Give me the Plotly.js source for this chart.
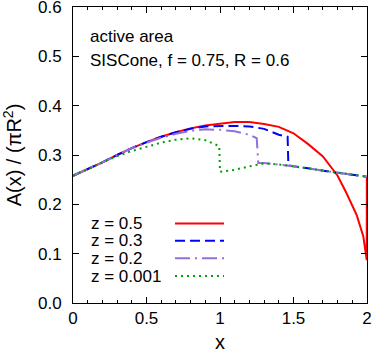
<!DOCTYPE html>
<html>
<head>
<meta charset="utf-8">
<script src="https://cdn.plot.ly/plotly-3.0.1.min.js"></script>
<style>
  body { margin: 0; background: #fff; }
  #area { width: 374px; height: 353px; }
</style>
</head>
<body>
<div id="area"></div>
<script>
// values
var xRed = [0, 0.1, 0.2, 0.3, 0.4, 0.5, 0.6, 0.7, 0.8, 0.9, 1.0, 1.1, 1.2, 1.3, 1.4, 1.5, 1.6, 1.7, 1.8, 1.86, 1.93, 1.975, 1.998, 1.999];
var yRed = [0.258, 0.271, 0.285, 0.300, 0.314, 0.326, 0.337, 0.346, 0.354, 0.360, 0.364, 0.367, 0.367, 0.363, 0.357, 0.344, 0.322, 0.297, 0.258, 0.223, 0.178, 0.135, 0.087, 0.256];

var xBlue = [0, 0.1, 0.2, 0.3, 0.4, 0.5, 0.6, 0.7, 0.8, 0.9, 1.0, 1.1, 1.2, 1.3, 1.4, 1.46, 1.465, 1.5, 1.6, 1.7, 1.8, 1.9, 2.0];
var yBlue = [0.258, 0.271, 0.285, 0.300, 0.314, 0.326, 0.337, 0.346, 0.353, 0.358, 0.359, 0.359, 0.358, 0.353, 0.341, 0.337, 0.279, 0.277, 0.273, 0.268, 0.264, 0.260, 0.256];

var xPurple = [0, 0.1, 0.2, 0.3, 0.4, 0.5, 0.6, 0.7, 0.8, 0.9, 1.0, 1.1, 1.2, 1.25, 1.26, 1.3, 1.4, 1.5, 1.6, 1.7, 1.8, 1.9, 2.0];
var yPurple = [0.258, 0.271, 0.285, 0.300, 0.314, 0.325, 0.335, 0.343, 0.349, 0.352, 0.351, 0.348, 0.341, 0.334, 0.284, 0.284, 0.281, 0.277, 0.273, 0.268, 0.264, 0.260, 0.256];

var xGreen = [0, 0.1, 0.2, 0.3, 0.4, 0.5, 0.6, 0.7, 0.8, 0.9, 0.97, 0.995, 1.0, 1.1, 1.2, 1.3, 1.4, 1.5, 1.6, 1.7, 1.8, 1.9, 2.0];
var yGreen = [0.258, 0.271, 0.285, 0.298, 0.308, 0.317, 0.325, 0.331, 0.334, 0.330, 0.321, 0.318, 0.266, 0.270, 0.277, 0.283, 0.281, 0.277, 0.273, 0.268, 0.264, 0.260, 0.256];

var labels = ['z = 0.5', 'z = 0.3', 'z = 0.2', 'z = 0.001'];

var fnt = 'Liberation Sans, Arial, sans-serif';
var rowY = [0.269, 0.210, 0.151, 0.091];   // legend rows, paper fraction

var data = [
  {x: xRed, y: yRed, name: labels[0], legend: 'legend', type: 'scatter', mode: 'lines',
   line: {color: '#ff0000', width: 2}},
  {x: xBlue, y: yBlue, name: labels[1], legend: 'legend2', type: 'scatter', mode: 'lines',
   line: {color: '#0000ff', width: 2, dash: '10px,5px'}},
  {x: xPurple, y: yPurple, name: labels[2], legend: 'legend3', type: 'scatter', mode: 'lines',
   line: {color: '#9370db', width: 2, dash: '15px,5px,2px,5px'}},
  {x: xGreen, y: yGreen, name: labels[3], legend: 'legend4', type: 'scatter', mode: 'lines',
   line: {color: '#00a000', width: 2, dash: '2px,4px'}}
];

var annotations = [
  {text: 'active area', xref: 'paper', yref: 'paper', x: 0.05, y: 0.899,
   xanchor: 'left', yanchor: 'middle', showarrow: false},
  {text: 'SISCone, f = 0.75, R = 0.6', xref: 'paper', yref: 'paper', x: 0.05, y: 0.819,
   xanchor: 'left', yanchor: 'middle', showarrow: false}
];

function legendBox(i) {
  return {
    x: 0.33, y: rowY[i], xanchor: 'left', yanchor: 'middle',
    bgcolor: 'rgba(0,0,0,0)', itemwidth: 49,
    font: {family: fnt, size: 2, color: 'rgba(0,0,0,0)'}
  };
}

var layout = {
  width: 374,
  height: 353,
  font: {family: fnt, size: 17, color: '#000'},
  paper_bgcolor: '#fff',
  plot_bgcolor: '#fff',
  margin: {l: 73, r: 7, t: 7, b: 50},
  showlegend: true,
  legend: legendBox(0),
  legend2: legendBox(1),
  legend3: legendBox(2),
  legend4: legendBox(3),
  annotations: annotations,
  xaxis: {
    range: [0, 2], dtick: 0.5, tick0: 0,
    showgrid: false, zeroline: false,
    showline: true, linecolor: '#000', linewidth: 1, mirror: 'allticks',
    ticks: 'inside', ticklen: 6, tickcolor: '#000',
    ticklabeloverflow: 'allow',
    minor: {dtick: 0.1, ticks: 'inside', ticklen: 3, tickcolor: '#000'},
    title: {text: 'x', standoff: 10}
  },
  yaxis: {
    range: [0, 0.6000001], dtick: 0.1, tick0: 0, tickformat: '.1f',
    showgrid: false, zeroline: false,
    showline: true, linecolor: '#000', linewidth: 1, mirror: 'allticks',
    ticks: 'inside', ticklen: 6, tickcolor: '#000',
    ticklabelstandoff: 7, ticklabeloverflow: 'allow',
    title: {text: 'A(x) / (\u03c0R<sup>2</sup>)', standoff: 10}
  }
};

// legend labels sit to the left of the line samples, as plain text
labels.forEach(function (t, i) {
  annotations.push({text: t, xref: 'paper', yref: 'paper', x: 0.055, y: rowY[i],
    xanchor: 'left', yanchor: 'middle', height: 17, showarrow: false});
});

Plotly.newPlot('area', data, layout, {displayModeBar: false});
</script>
</body>
</html>
